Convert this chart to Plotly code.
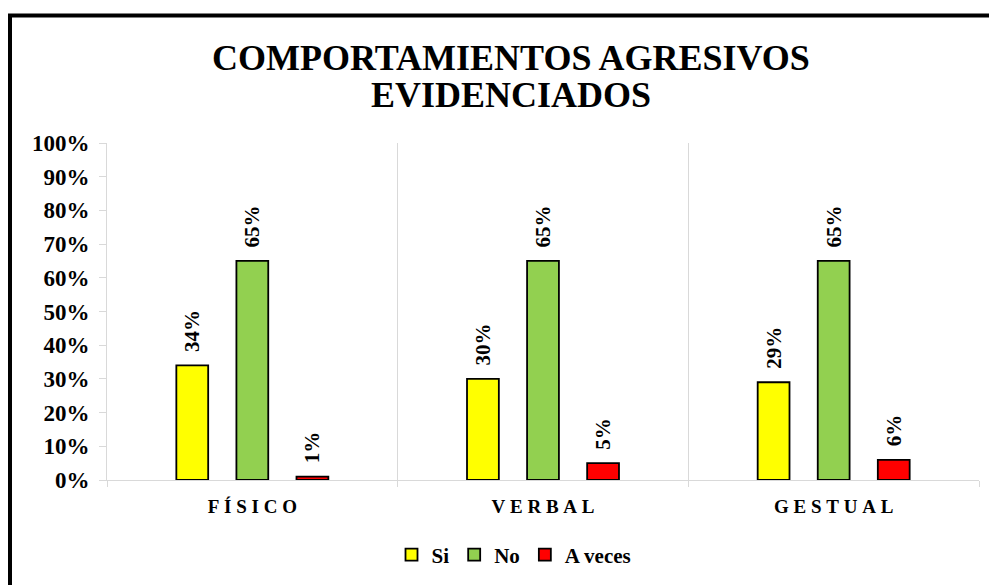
import plotly.graph_objects as go

categories = ["FÍSICO", "VERBAL", "GESTUAL"]
si_values = [0.34, 0.30, 0.29]
no_values = [0.65, 0.65, 0.65]
aveces_values = [0.01, 0.05, 0.06]
series_names = ["Si", "No", "A veces"]
series_colors = ["#FFFF00", "#92D050", "#FF0000"]
title_lines = ["COMPORTAMIENTOS AGRESIVOS", "EVIDENCIADOS"]
ytick_vals = [i / 10 for i in range(11)]
ytick_text = [f"{i * 10}%" for i in range(11)]

SERIF = "Liberation Serif"
CAT_SP = "\u2005"

# plot-area geometry (figure pixels; page adds an 8px body offset)
L, T, R, B = 99, 135, 971, 472
PW, PH = R - L, B - T


def px_x(x):
    return (x - L) / PW


def px_y(y):
    return (B - y) / PH


cat_labels = [CAT_SP.join(list(c)) for c in categories]

fig = go.Figure()
for name, vals, col in zip(series_names, [si_values, no_values, aveces_values], series_colors):
    fig.add_trace(go.Bar(
        name=name,
        x=cat_labels,
        y=vals,
        marker=dict(color=col, line=dict(color="black", width=1.8)),
        text=["\u00a0\u00a0" + f"{round(v * 100)}%" for v in vals],
        textposition="outside",
        textangle=-90,
        constraintext="none",
        cliponaxis=False,
        textfont=dict(family=SERIF, size=21, color="black", weight="bold"),
    ))

fig.update_layout(
    width=997, height=585,
    margin=dict(l=L, r=997 - R, t=T, b=585 - B),
    paper_bgcolor="white", plot_bgcolor="white",
    barmode="group", bargap=0.38, bargroupgap=0.47,
    showlegend=True,
    legend=dict(orientation="h", x=px_x(506), xanchor="center", y=px_y(547), yanchor="middle",
                font=dict(family=SERIF, size=21, color="black", weight="bold"),
                traceorder="normal"),
    font=dict(family=SERIF, color="black"),
)

for i, (line, yc) in enumerate(zip(title_lines, [50, 87])):
    fig.add_annotation(text=line, xref="paper", yref="paper", x=px_x(503), y=px_y(yc),
                       xanchor="center", yanchor="middle", showarrow=False,
                       font=dict(family=SERIF, size=36, color="black", weight="bold"))

fig.update_yaxes(
    range=[0, 1], tickvals=ytick_vals, ticktext=ytick_text,
    showgrid=False, zeroline=False,
    showline=True, linecolor="#d9d9d9", linewidth=1,
    ticks="outside", ticklen=7, tickcolor="#d9d9d9",
    ticklabelstandoff=5,
    tickfont=dict(family=SERIF, size=23, color="black", weight="bold"),
)
fig.update_xaxes(
    showline=True, linecolor="#d9d9d9", linewidth=1,
    ticks="outside", ticklen=6, tickcolor="#d9d9d9", tickson="boundaries",
    showgrid=True, gridcolor="#d9d9d9", gridwidth=1,
    ticklabelstandoff=9,
    tickfont=dict(family=SERIF, size=19, color="black", weight="bold"),
)

# outer chart border (right/bottom edges lie outside the visible page, as in the reference)
fig.add_shape(type="rect", xref="paper", yref="paper",
              x0=px_x(2), x1=px_x(1010), y0=px_y(620), y1=px_y(7.5),
              line=dict(color="black", width=4), layer="above")

fig.write_html("out.html")
